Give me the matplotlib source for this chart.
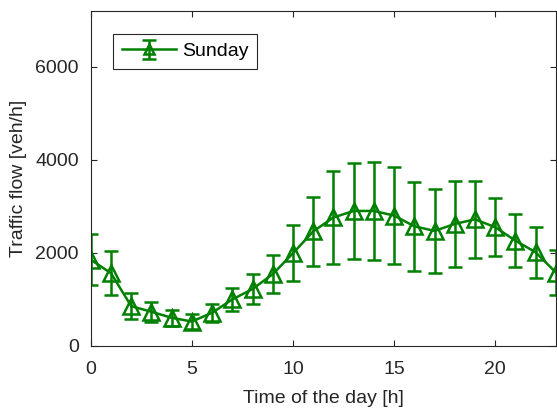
import matplotlib.pyplot as plt

plt.rcParams['font.family'] = ['Liberation Sans', 'DejaVu Sans']

hours = list(range(24))
flow = [1850, 1560, 850, 730, 600, 520, 710, 995, 1220, 1540, 1990, 2460,
        2760, 2900, 2900, 2800, 2570, 2470, 2620, 2720, 2550, 2260, 2010, 1575]
flow_std = [550, 470, 285, 215, 170, 160, 190, 245, 320, 410, 600, 750,
            1000, 1040, 1060, 1050, 960, 910, 930, 830, 620, 570, 555, 485]

green = (0, 0.5, 0)
dark = (0.15, 0.15, 0.15)

fig = plt.figure(figsize=(5.57, 4.13), dpi=100)
ax = fig.add_axes([0.163, 0.163, 0.835, 0.81])

ax.errorbar(hours, flow, yerr=flow_std, color=green, lw=1.8, marker='^',
            ms=11, mfc='none', mew=1.8, capsize=5, capthick=1.8,
            elinewidth=1.8, label='Sunday')

ax.set_xlim(0, 23)
ax.set_ylim(0, 7200)
ax.set_xticks([0, 5, 10, 15, 20])
ax.set_yticks([0, 2000, 4000, 6000])
ax.set_xlabel('Time of the day [h]', fontsize=14, color=dark, labelpad=9)
ax.set_ylabel('Traffic flow [veh/h]', fontsize=14, color=dark, labelpad=6)
ax.tick_params(direction='in', top=True, right=True, length=4,
               labelsize=14, colors=dark, pad=8.5)
ax.tick_params(axis='x', pad=11)
for s in ax.spines.values():
    s.set_color(dark)
    s.set_linewidth(0.8)

leg = ax.legend(loc='upper left', bbox_to_anchor=(0.048, 0.932), fontsize=14,
                fancybox=False, framealpha=1, borderaxespad=0,
                handlelength=2.8, borderpad=0.45, handletextpad=0.3,
                markerscale=0.7)
leg.get_frame().set_edgecolor(dark)
leg.get_frame().set_linewidth(0.8)

fig.savefig('out.png', dpi=100)
